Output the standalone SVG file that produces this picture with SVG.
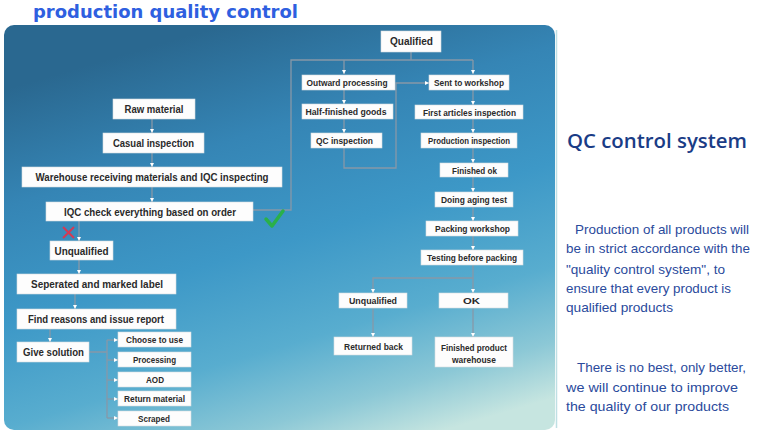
<svg xmlns="http://www.w3.org/2000/svg" width="758" height="434" viewBox="0 0 758 434">
<defs>
<linearGradient id="bg" x1="0.4" y1="0" x2="0.8" y2="1">
<stop offset="0" stop-color="#2a6890"/>
<stop offset="0.25" stop-color="#3585b5"/>
<stop offset="0.5" stop-color="#3d98c7"/>
<stop offset="0.72" stop-color="#58adcf"/>
<stop offset="0.88" stop-color="#8cc8d6"/>
<stop offset="1" stop-color="#c6e5e0"/>
</linearGradient>
<marker id="ah" viewBox="0 0 6 6" refX="6" refY="3" markerWidth="4" markerHeight="4" markerUnits="userSpaceOnUse" orient="auto">
<path d="M0,0 L6,3 L0,6 z" fill="#ffffff"/>
</marker>
<style>
.box{fill:#fdfdfd;stroke:#d6dde2;stroke-width:0.6}
.lb{font-family:"Liberation Sans",Arial,sans-serif;font-weight:bold;fill:#2a2a2a;text-anchor:middle}
.l11{font-size:11px}
.l95{font-size:9.5px}
.cn{fill:none;stroke:#8798a8;stroke-width:1.3}
.ar{marker-end:url(#ah)}
.pt{font-family:"Liberation Sans",Arial,sans-serif;font-size:13.5px;fill:#2a4a9c}
</style>
</defs>
<rect x="0" y="0" width="758" height="434" fill="#ffffff"/>
<text x="33" y="18" font-family="DejaVu Sans,Verdana,sans-serif" font-weight="bold" font-size="17" fill="#2f5fe0" textLength="265" lengthAdjust="spacingAndGlyphs">production quality control</text>
<line x1="556.5" y1="30" x2="556.5" y2="428" stroke="#bfe0e4" stroke-width="1.5"/>
<rect x="4" y="25" width="551" height="405" rx="10" fill="url(#bg)"/>

<g id="connectors">
<path class="cn ar" d="M152 119 V133"/>
<path class="cn ar" d="M152 153 V167"/>
<path class="cn ar" d="M152 187 V202"/>
<path class="cn ar" d="M79 221 V241"/>
<path class="cn ar" d="M79 260 V274"/>
<path class="cn ar" d="M75 294 V309"/>
<path class="cn ar" d="M50 329 V342"/>
<path class="cn" d="M89 352 H107 M107 340 V418"/>
<path class="cn ar" d="M107 340 H118"/>
<path class="cn ar" d="M107 360 H118"/>
<path class="cn ar" d="M107 380 H118"/>
<path class="cn ar" d="M107 399 H118"/>
<path class="cn ar" d="M107 418 H118"/>
<path class="cn" d="M253 210 H291 V60 H473 M411 52 V60"/>
<path class="cn ar" d="M344 60 V74"/>
<path class="cn ar" d="M473 60 V74"/>
<path class="cn ar" d="M344 90 V104"/>
<path class="cn ar" d="M344 119 V133"/>
<path class="cn ar" d="M344 148 V168 H396 V83 H429"/>
<path class="cn ar" d="M473 90 V105"/>
<path class="cn ar" d="M473 119 V133"/>
<path class="cn ar" d="M473 148 V163"/>
<path class="cn ar" d="M473 177 V192"/>
<path class="cn ar" d="M473 207 V221"/>
<path class="cn ar" d="M473 236 V250"/>
<path class="cn ar" d="M473 265 V293"/>
<path class="cn ar" d="M473 278 H373 V293"/>
<path class="cn ar" d="M373 308 V337"/>
<path class="cn ar" d="M473 308 V337"/>
</g>

<g id="n-raw"><rect class="box" x="113" y="99" width="82" height="20"/><text class="lb l11" x="154" y="113" textLength="59" lengthAdjust="spacingAndGlyphs">Raw material</text></g>
<g id="n-casual"><rect class="box" x="103" y="133" width="101" height="20"/><text class="lb l11" x="153.5" y="147" textLength="81" lengthAdjust="spacingAndGlyphs">Casual inspection</text></g>
<g id="n-warehouse"><rect class="box" x="22" y="167" width="260" height="20"/><text class="lb l11" x="152" y="181" textLength="233" lengthAdjust="spacingAndGlyphs">Warehouse receiving materials and IQC inspecting</text></g>
<g id="n-iqc"><rect class="box" x="46" y="202" width="207" height="19"/><text class="lb l11" x="150" y="215.5" textLength="172" lengthAdjust="spacingAndGlyphs">IQC check everything based on order</text></g>
<g id="n-unq-left"><rect class="box" x="50" y="241" width="63" height="19"/><text class="lb l11" x="81.5" y="254.5" textLength="54" lengthAdjust="spacingAndGlyphs">Unqualified</text></g>
<g id="n-seperated"><rect class="box" x="17" y="274" width="159" height="20"/><text class="lb l11" x="97" y="288" textLength="132" lengthAdjust="spacingAndGlyphs">Seperated and marked label</text></g>
<g id="n-find"><rect class="box" x="17" y="309" width="159" height="20"/><text class="lb l11" x="96" y="323" textLength="136" lengthAdjust="spacingAndGlyphs">Find reasons and issue report</text></g>
<g id="n-give"><rect class="box" x="17" y="342" width="72" height="20"/><text class="lb l11" x="53.5" y="356" textLength="61" lengthAdjust="spacingAndGlyphs">Give solution</text></g>
<g id="n-choose"><rect class="box" x="118" y="332" width="73" height="15"/><text class="lb l95" x="154.5" y="343" textLength="57" lengthAdjust="spacingAndGlyphs">Choose to use</text></g>
<g id="n-processing"><rect class="box" x="118" y="352" width="73" height="15"/><text class="lb l95" x="154.5" y="363" textLength="43" lengthAdjust="spacingAndGlyphs">Processing</text></g>
<g id="n-aod"><rect class="box" x="118" y="372" width="73" height="15"/><text class="lb l95" x="155" y="383" textLength="18" lengthAdjust="spacingAndGlyphs">AOD</text></g>
<g id="n-return"><rect class="box" x="118" y="391" width="73" height="15"/><text class="lb l95" x="154.5" y="402" textLength="61" lengthAdjust="spacingAndGlyphs">Return material</text></g>
<g id="n-scraped"><rect class="box" x="118" y="411" width="73" height="15"/><text class="lb l95" x="154" y="422" textLength="32" lengthAdjust="spacingAndGlyphs">Scraped</text></g>

<g id="n-qualified"><rect class="box" x="381" y="31" width="60" height="21"/><text class="lb" font-size="10.5" x="411.5" y="45" textLength="43" lengthAdjust="spacingAndGlyphs">Qualified</text></g>
<g id="n-outward"><rect class="box" x="302" y="75" width="93" height="15"/><text class="lb l95" x="347" y="86" textLength="81" lengthAdjust="spacingAndGlyphs">Outward processing</text></g>
<g id="n-half"><rect class="box" x="302" y="104" width="91" height="15"/><text class="lb l95" x="346" y="115" textLength="81" lengthAdjust="spacingAndGlyphs">Half-finished goods</text></g>
<g id="n-qcinsp"><rect class="box" x="311" y="133" width="71" height="15"/><text class="lb l95" x="344.5" y="144" textLength="57" lengthAdjust="spacingAndGlyphs">QC inspection</text></g>
<g id="n-sent"><rect class="box" x="429" y="75" width="80" height="15"/><text class="lb l95" x="469" y="86" textLength="70" lengthAdjust="spacingAndGlyphs">Sent to workshop</text></g>
<g id="n-first"><rect class="box" x="415" y="105" width="108" height="14"/><text class="lb l95" x="469.5" y="115.5" textLength="93" lengthAdjust="spacingAndGlyphs">First articles inspection</text></g>
<g id="n-production"><rect class="box" x="421" y="133" width="96" height="15"/><text class="lb l95" x="469" y="144" textLength="82" lengthAdjust="spacingAndGlyphs">Production inspection</text></g>
<g id="n-finok"><rect class="box" x="440" y="163" width="68" height="14"/><text class="lb l95" x="474.5" y="173.5" textLength="45" lengthAdjust="spacingAndGlyphs">Finished ok</text></g>
<g id="n-aging"><rect class="box" x="435" y="192" width="78" height="15"/><text class="lb l95" x="474" y="203" textLength="66" lengthAdjust="spacingAndGlyphs">Doing aging test</text></g>
<g id="n-packing"><rect class="box" x="426" y="221" width="92" height="15"/><text class="lb l95" x="472.5" y="232" textLength="75" lengthAdjust="spacingAndGlyphs">Packing workshop</text></g>
<g id="n-testing"><rect class="box" x="421" y="250" width="102" height="15"/><text class="lb l95" x="472" y="261" textLength="90" lengthAdjust="spacingAndGlyphs">Testing before packing</text></g>
<g id="n-unq-right"><rect class="box" x="339" y="293" width="68" height="15"/><text class="lb l95" x="373" y="304" textLength="48" lengthAdjust="spacingAndGlyphs">Unqualified</text></g>
<g id="n-ok"><rect class="box" x="439" y="293" width="69" height="15"/><text class="lb l95" x="471.5" y="304" textLength="17" lengthAdjust="spacingAndGlyphs">OK</text></g>
<g id="n-returned"><rect class="box" x="334" y="337" width="78" height="18"/><text class="lb l95" x="373.5" y="349.5" textLength="59" lengthAdjust="spacingAndGlyphs">Returned back</text></g>
<g id="n-warehouse-fp"><rect class="box" x="435" y="337" width="78" height="30"/><text class="lb l95" x="474" y="350.5" textLength="66" lengthAdjust="spacingAndGlyphs">Finished product</text><text class="lb l95" x="474" y="362.5" textLength="44" lengthAdjust="spacingAndGlyphs">warehouse</text></g>

<path d="M266 219 L272 226 L283 211" fill="none" stroke="#2ab04a" stroke-width="3.5" stroke-linecap="round" stroke-linejoin="round"/>
<path d="M63 227 L74 238 M74 227 L63 238" fill="none" stroke="#d33a55" stroke-width="2"/>

<text x="567" y="148" font-family="Open Sans,Liberation Sans,Arial,sans-serif" font-weight="600" font-size="20.5" fill="#1a3c86" textLength="180" lengthAdjust="spacingAndGlyphs">QC control system</text>
<text class="pt" x="575" y="234" textLength="174" lengthAdjust="spacingAndGlyphs">Production of all products will</text>
<text class="pt" x="566" y="253" textLength="184" lengthAdjust="spacingAndGlyphs">be in strict accordance with the</text>
<text class="pt" x="566" y="274" textLength="159" lengthAdjust="spacingAndGlyphs">"quality control system", to</text>
<text class="pt" x="566" y="293" textLength="165" lengthAdjust="spacingAndGlyphs">ensure that every product is</text>
<text class="pt" x="566" y="312" textLength="107" lengthAdjust="spacingAndGlyphs">qualified products</text>
<text class="pt" x="577" y="372" textLength="169" lengthAdjust="spacingAndGlyphs">There is no best, only better,</text>
<text class="pt" x="566" y="392" textLength="172" lengthAdjust="spacingAndGlyphs">we will continue to improve</text>
<text class="pt" x="566" y="411" textLength="163" lengthAdjust="spacingAndGlyphs">the quality of our products</text>
</svg>
